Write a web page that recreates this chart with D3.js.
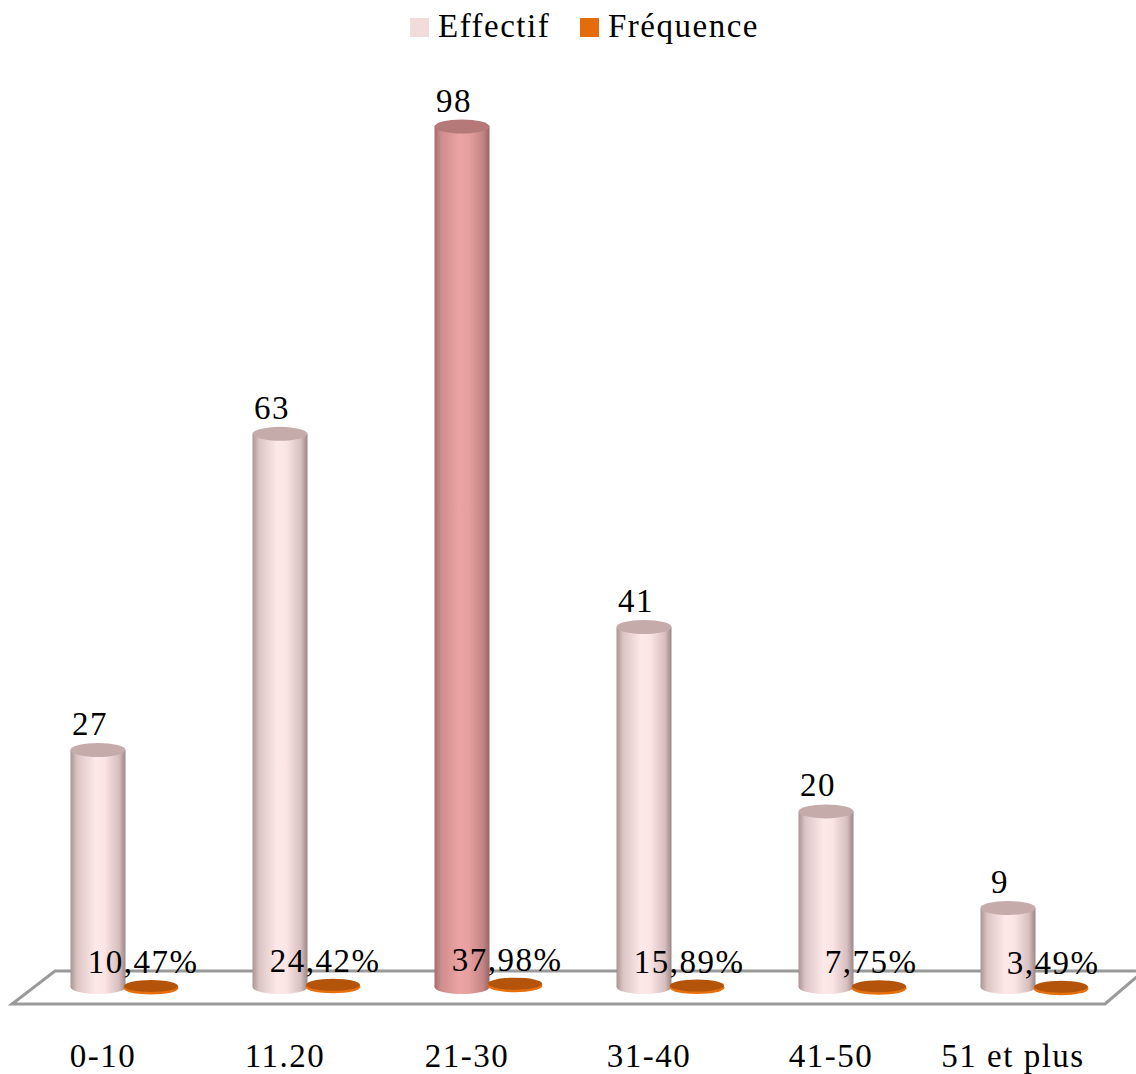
<!DOCTYPE html>
<html>
<head>
<meta charset="utf-8">
<script src="https://cdn.jsdelivr.net/npm/d3@7"></script>
<style>
  body { margin: 0; background: #fff; }
  svg text { font-family: "Liberation Serif", "DejaVu Serif", serif; fill: #000; letter-spacing: 1.5px; }
</style>
</head>
<body>
<div id="chart"></div>
<script>
// Effectif / Fréquence par tranche - cylindres 3D
var categories = ["0-10", "11.20", "21-30", "31-40", "41-50", "51 et plus"];
var effectif = [27, 63, 98, 41, 20, 9];
var frequence = [10.47, 24.42, 37.98, 15.89, 7.75, 3.49];
var seriesNames = ["Effectif", "Fréquence"];
var highlightIndex = 2;

var width = 1136, height = 1074;
var fontSize = 33;

var svg = d3.select("#chart").append("svg")
    .attr("width", width)
    .attr("height", height);

var x = d3.scaleBand()
    .domain(categories)
    .range([7, 1099])
    .padding(0);

var y = d3.scaleLinear()
    .domain([0, 100])
    .range([987, 109]);

var barW = 55, ry = 7;

// gradients
var defs = svg.append("defs");
function cylGradient(id, stops) {
    var g = defs.append("linearGradient").attr("id", id)
        .attr("x1", "0%").attr("x2", "100%").attr("y1", "0%").attr("y2", "0%");
    stops.forEach(function (s) {
        g.append("stop").attr("offset", s[0]).attr("stop-color", s[1]);
    });
}
cylGradient("cylNormal", [["0%", "#a99393"], ["12%", "#dcc4c4"], ["45%", "#fde9e9"], ["62%", "#fbe4e4"], ["88%", "#d7bfbf"], ["100%", "#9c8686"]]);
cylGradient("cylHigh", [["0%", "#a56c6c"], ["12%", "#cf8d8d"], ["45%", "#eba3a3"], ["62%", "#e79f9f"], ["88%", "#c48585"], ["100%", "#9a6363"]]);

// Floor
var floor = svg.append("g");
floor.append("polyline")
    .attr("points", [[1136, 971], [55, 971], [12, 1004], [1105, 1004], [1140, 974]].join(" "))
    .attr("fill", "#fff")
    .attr("stroke", "#9a9a9a")
    .attr("stroke-width", 3);

// Effectif cylinders
var bars = svg.selectAll(".cyl")
    .data(effectif)
    .enter()
    .append("g")
    .attr("class", "cyl");

bars.each(function (d, i) {
    var g = d3.select(this);
    var cx = x(categories[i]) + x.bandwidth() / 2;
    var hi = i === highlightIndex;
    var fill = hi ? "url(#cylHigh)" : "url(#cylNormal)";
    var top = y(d), base = y(0);
    g.append("ellipse")
        .attr("cx", cx).attr("cy", base)
        .attr("rx", barW / 2).attr("ry", ry)
        .attr("fill", fill);
    g.append("rect")
        .attr("x", cx - barW / 2).attr("y", top)
        .attr("width", barW).attr("height", base - top)
        .attr("fill", fill);
    g.append("ellipse")
        .attr("cx", cx).attr("cy", top)
        .attr("rx", barW / 2).attr("ry", ry)
        .attr("fill", hi ? "#b67979" : "#c6abab");
});

// Fréquence discs
var discs = svg.selectAll(".disc")
    .data(frequence)
    .enter()
    .append("g")
    .attr("class", "disc");

discs.each(function (d, i) {
    var g = d3.select(this);
    var cx = x(categories[i]) + x.bandwidth() / 2 + 53;
    var cy = y(d / 100);
    g.append("ellipse")
        .attr("cx", cx).attr("cy", cy + 2)
        .attr("rx", 27.5).attr("ry", 6.5)
        .attr("fill", "#e8700c");
    g.append("ellipse")
        .attr("cx", cx).attr("cy", cy)
        .attr("rx", 27).attr("ry", 6)
        .attr("fill", "#b4540b");
});

// value labels
svg.selectAll(".lblEff")
    .data(effectif)
    .enter()
    .append("text")
    .attr("x", function (d, i) { return x(categories[i]) + x.bandwidth() / 2 - 8; })
    .attr("y", function (d) { return y(d) - 15; })
    .attr("text-anchor", "middle")
    .style("font-size", fontSize + "px")
    .text(function (d) { return d; });

svg.selectAll(".lblFreq")
    .data(frequence)
    .enter()
    .append("text")
    .attr("x", function (d, i) { return x(categories[i]) + x.bandwidth() / 2 + 45; })
    .attr("y", function (d) { return y(d / 100) - 13; })
    .attr("text-anchor", "middle")
    .style("font-size", fontSize + "px")
    .text(function (d) { return d.toFixed(2).replace(/0$/, "").replace(".", ",") + "%"; });

// category labels
svg.selectAll(".lblCat")
    .data(categories)
    .enter()
    .append("text")
    .attr("x", function (d) { return x(d) + x.bandwidth() / 2 + 5; })
    .attr("y", 1067)
    .attr("text-anchor", "middle")
    .style("font-size", fontSize + "px")
    .text(function (d) { return d; });

// legend
var legendColors = ["#f2dcdb", "#e46c0a"];
var legendX = [410, 580];
var legend = svg.selectAll(".legend")
    .data(seriesNames)
    .enter()
    .append("g")
    .attr("transform", function (d, i) { return "translate(" + legendX[i] + ",18)"; });
legend.append("rect")
    .attr("width", 19).attr("height", 19)
    .attr("fill", function (d, i) { return legendColors[i]; });
legend.append("text")
    .attr("x", 28).attr("y", 19)
    .style("font-size", fontSize + "px")
    .text(function (d) { return d; });
</script>
</body>
</html>
